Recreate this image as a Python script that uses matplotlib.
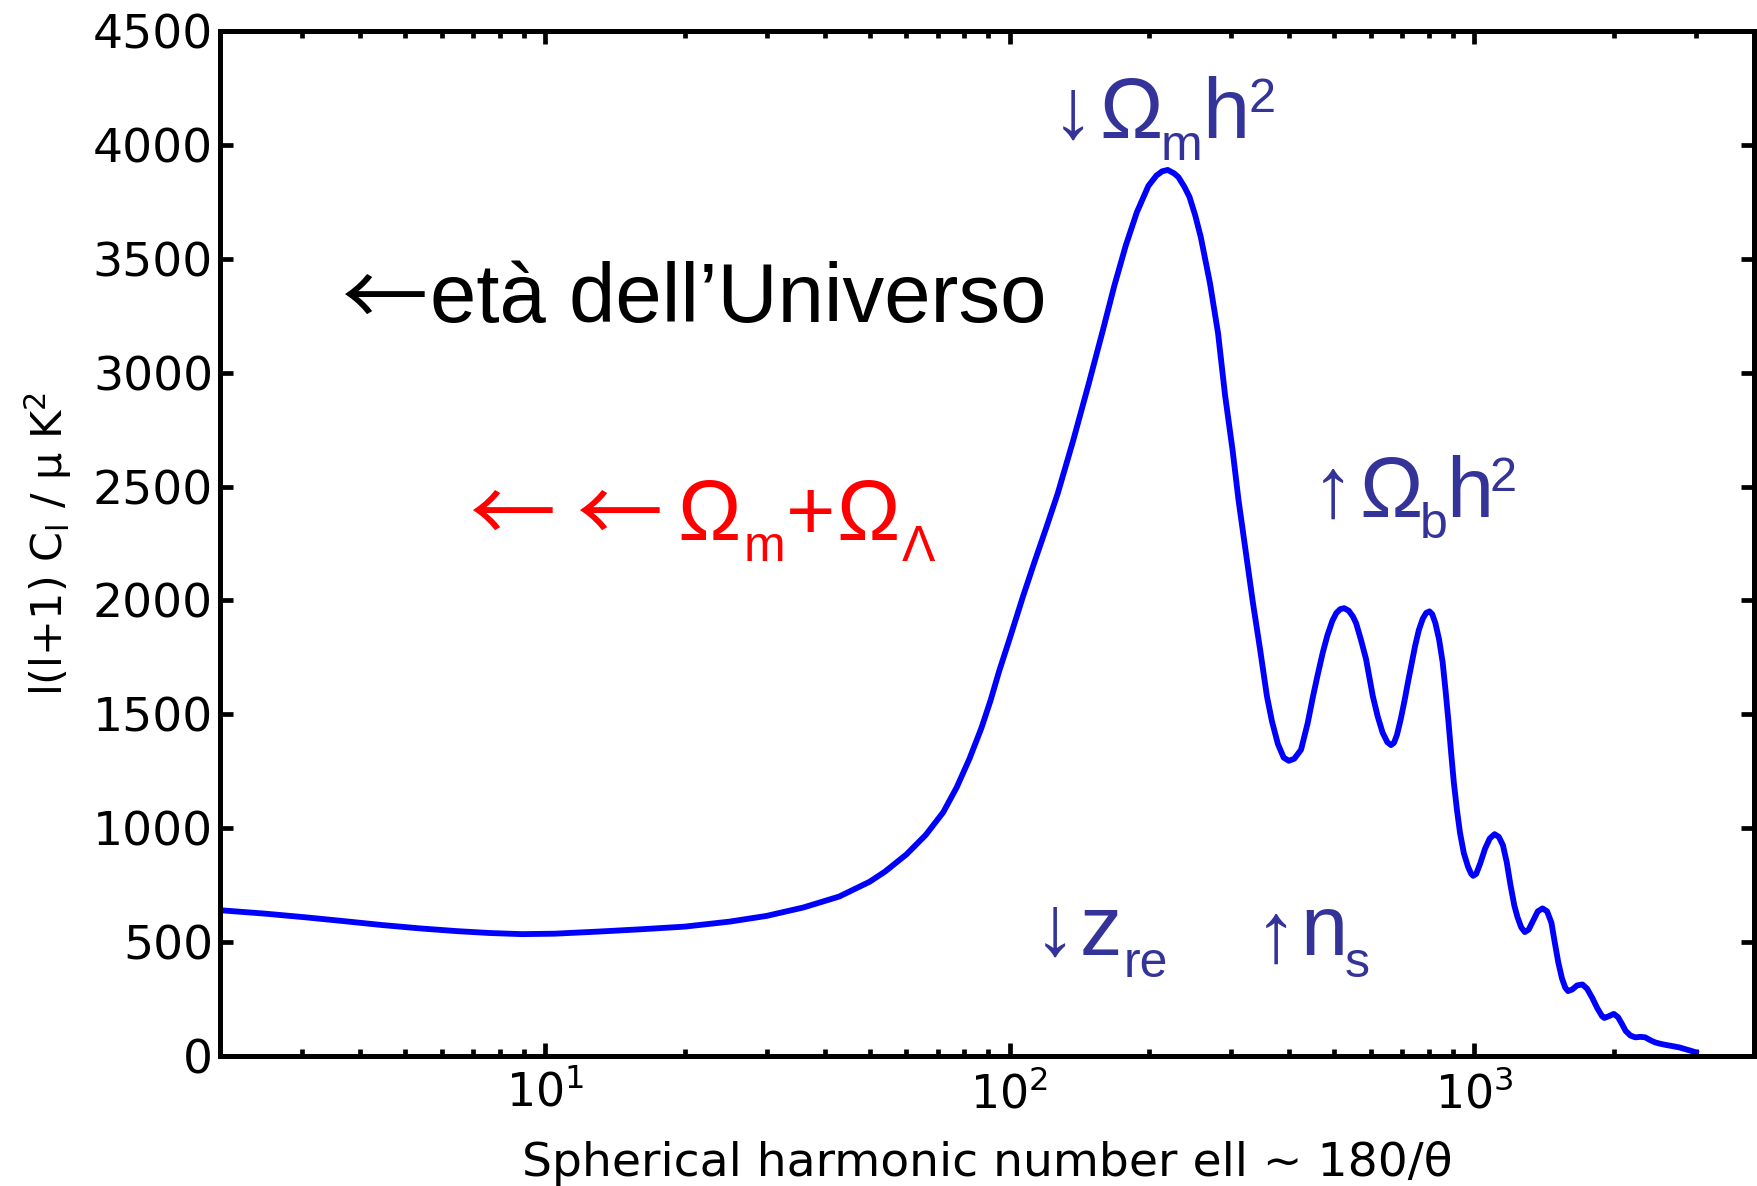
import matplotlib
matplotlib.use("Agg")
import matplotlib.pyplot as plt
from matplotlib.ticker import LogLocator, NullFormatter

plt.rcParams['font.family'] = ['DejaVu Sans']
plt.rcParams['mathtext.fontset'] = 'custom'
plt.rcParams['mathtext.rm'] = 'DejaVu Sans'
plt.rcParams['mathtext.it'] = 'DejaVu Sans:italic'
plt.rcParams['mathtext.bf'] = 'DejaVu Sans:bold'

# Angular power spectrum l(l+1)C_l [muK^2] against multipole ell
ell = [2, 2.5, 3.05, 3.7, 4.46, 5.4, 6.49, 7.6, 8.93, 10.5, 12.97, 16, 20,
       25, 30, 36, 43, 50, 54, 60, 66, 72, 77, 82, 87, 91, 95, 100, 107,
       113, 120, 127, 137, 148, 159, 168, 178, 188, 199, 207, 213, 219, 226,
       231, 238, 244, 251, 258, 270, 281, 291, 302, 311, 322, 334, 346, 358,
       367, 378, 389, 399, 410, 424, 438, 450, 460, 472, 483, 495, 505, 515,
       525, 537, 548, 557, 570, 585, 605, 620, 635, 650, 662, 672, 682, 695,
       708, 720, 733, 746, 760, 775, 788, 801, 812, 825, 840, 855, 868, 880,
       892, 904, 918, 932, 950, 970, 985, 995, 1010, 1030, 1055, 1080, 1106,
       1130, 1153, 1175, 1197, 1220, 1239, 1262, 1285, 1310, 1340, 1370,
       1403, 1435, 1466, 1490, 1517, 1545, 1570, 1592, 1625, 1665, 1710,
       1750, 1795, 1840, 1884, 1905, 1950, 1997, 2040, 2080, 2118, 2168,
       2220, 2280, 2333, 2390, 2449, 2510, 2564, 2630, 2692, 2760, 2825,
       2890, 2958, 2998]
dl = [640, 625, 609, 592, 575, 560, 548, 540, 535, 537, 546, 556, 568,
      590, 615, 652, 700, 765, 810, 885, 970, 1070, 1180, 1305, 1440, 1560,
      1690, 1830, 2020, 2165, 2320, 2470, 2700, 2950, 3190, 3380, 3560, 3705,
      3820, 3865, 3884, 3890, 3875, 3858, 3815, 3771, 3690, 3595, 3393, 3174,
      2900, 2660, 2441, 2221, 1990, 1787, 1580, 1470, 1370, 1310, 1296, 1305,
      1345, 1460, 1580, 1670, 1770, 1846, 1910, 1945, 1962, 1966, 1955, 1930,
      1900, 1830, 1743, 1580, 1490, 1420, 1378, 1365, 1375, 1410, 1480, 1560,
      1640, 1720, 1800, 1870, 1920, 1945, 1952, 1940, 1900, 1830, 1730, 1600,
      1470, 1330, 1200, 1080, 980, 890, 830, 800, 791, 800, 845, 910, 955,
      974, 962, 925, 850, 750, 660, 610, 565, 544, 555, 595, 635, 648, 635,
      585, 500, 410, 340, 300, 285, 292, 310, 314, 295, 255, 210, 175, 167,
      175, 185, 170, 140, 110, 90, 82, 84, 82, 70, 60, 54, 50, 46, 42, 38,
      32, 26, 20, 15]

y_ticks = [0, 500, 1000, 1500, 2000, 2500, 3000, 3500, 4000, 4500]
x_ticks = [10, 100, 1000]

W, H = 1758, 1186
fig = plt.figure(figsize=(W / 100, H / 100), dpi=100)
ax = fig.add_axes([220 / W, 1 - 1056 / H, (1754 - 220) / W, (1056 - 31) / H])

ax.plot(ell, dl, color='#0000ff', lw=4.2, solid_joinstyle='round')

ax.set_xscale('log')
ax.set_xlim(2, 4000)
ax.set_ylim(0, 4500)
ax.set_yticks(y_ticks)
ax.set_xticks(x_ticks)
ax.xaxis.set_minor_locator(LogLocator(base=10, subs=range(2, 10)))
ax.xaxis.set_minor_formatter(NullFormatter())

for s in ax.spines.values():
    s.set_linewidth(3.6)
ax.tick_params(which='both', direction='in', top=True, right=True,
               labelsize=34, width=3.4, color='black')
ax.tick_params(which='major', length=9.5)
ax.tick_params(which='minor', length=5)
ax.tick_params(axis='y', pad=5)
ax.tick_params(axis='x', labelsize=33, pad=11)

ax.set_xlabel('Spherical harmonic number ell ~ 180/θ', fontsize=34)
ax.xaxis.set_label_coords(0.5, -0.083)
ax.xaxis.label.set_va('top')
ax.set_ylabel(r'l(l+1) C$_\mathdefault{l}$ / μ K$^\mathdefault{2}$', fontsize=31)
ax.yaxis.set_label_coords(-0.095, 0.5)

SANS = 'Liberation Sans'
ARROW = 'Noto Sans CJK SC'


def put(x, y, s, size, color, family=SANS):
    fig.text(x / W, 1 - y / H, s, fontsize=size, color=color,
             family=family, ha='left', va='baseline')


navy = '#333399'
red = '#ff0000'
big, small = 61, 36

# age of the universe
put(342, 328, '\u2190', 62, 'black', ARROW)
put(430, 322, 'età dell\u2019Universo', 60, 'black')

# curvature: Omega_m + Omega_Lambda
put(470, 544, '\u2190', 62, red, ARROW)
put(577, 544, '\u2190', 62, red, ARROW)
put(677, 540, 'Ω', big, red)
put(744, 561, 'm', small, red)
put(786, 540, '+', big, red)
put(836, 540, 'Ω', big, red)
put(902, 561, 'Λ', small, red)

# matter density
put(1052, 138, '\u2193', big, navy)
put(1099, 138, 'Ω', big, navy)
put(1161, 160, 'm', small, navy)
put(1202, 138, 'h', big, navy)
put(1249, 112, '2', 35, navy)

# baryon density
put(1312, 517, '\u2191', big, navy)
put(1359, 517, 'Ω', big, navy)
put(1420, 538, 'b', small, navy)
put(1446, 517, 'h', big, navy)
put(1490, 491, '2', 35, navy)

# reionisation redshift
put(1034, 955, '\u2193', big, navy)
put(1080, 955, 'z', big, navy)
put(1124, 977, 're', small, navy)

# spectral index
put(1255, 962, '\u2191', big, navy)
put(1300, 955, 'n', big, navy)
put(1345, 977, 's', small, navy)

fig.savefig('out.png', dpi=100)
